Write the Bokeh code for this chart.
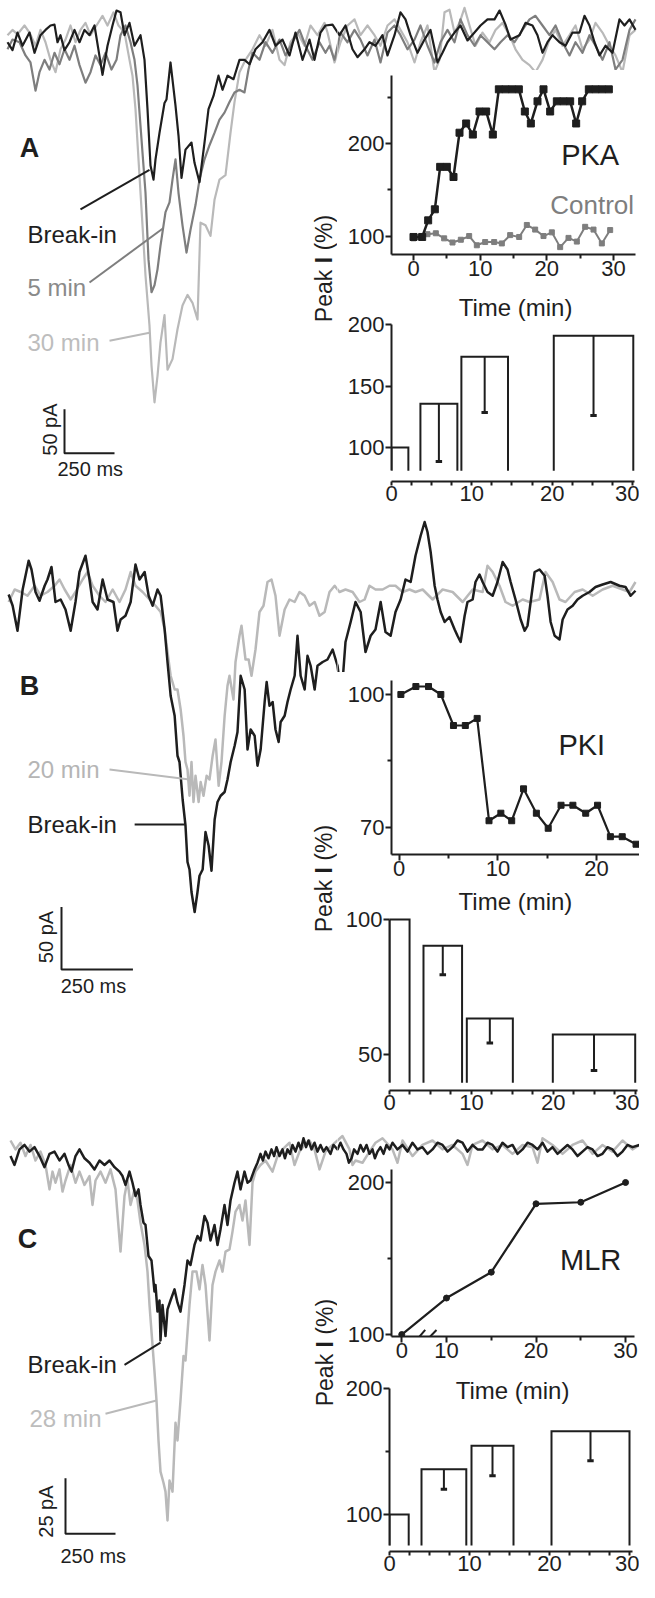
import numpy as np
from bokeh.plotting import figure
from bokeh.models import FixedTicker, Range1d, Row, Column, Arrow
from bokeh.embed import file_html
from bokeh.resources import INLINE
from bokeh.core.properties import value

FONT = "Liberation Sans"
INK = "#1e1e1e"
MID = "#7e7e7e"
LIGHT = "#b9b9b9"

# ---------------- Panel A traces (ms, pA) ----------------
a_breakin = [(10,6),(35,-3),(60,17),(85,2),(120,17),(145,-6),(175,14),(200,20),(225,25),(245,26),(260,6),(275,14),(295,-3),(320,6),(345,20),(370,6),(395,20),(420,14),(445,25),(465,-3),(485,-31),(510,2),(535,25),(555,42),(575,40),(595,14),(620,28),(645,2),(675,14),(695,-14),(710,-70),(725,-134),(740,-150),(750,-127),(770,-97),(795,-63),(805,-59),(825,-17),(850,-66),(865,-100),(880,-148),(900,-116),(930,-108),(945,-131),(970,-153),(995,-108),(1015,-70),(1040,-55),(1065,-32),(1085,-48),(1110,-32),(1140,-36),(1170,-14),(1195,-14),(1220,-19),(1250,-2),(1285,6),(1320,20),(1350,2),(1385,9),(1420,-9),(1450,17),(1485,-14),(1520,9),(1545,-14),(1575,17),(1600,25),(1635,26),(1670,14),(1700,25),(1735,-2),(1760,-11),(1795,-2),(1820,6),(1850,2),(1885,14),(1910,-9),(1945,14),(1975,40),(2000,32),(2025,14),(2060,-6),(2095,9),(2125,20),(2160,-17),(2185,-6),(2210,6),(2245,17),(2275,25),(2310,8),(2345,17),(2375,25),(2410,32),(2445,32),(2470,42),(2500,26),(2525,9),(2570,14),(2600,28),(2635,25),(2660,14),(2685,-6),(2710,6),(2735,14),(2770,6),(2800,2),(2835,17),(2870,17),(2895,36),(2920,25),(2945,6),(2970,-9),(3000,2),(3035,-6),(3070,32),(3095,25),(3120,32),(3150,20)]
a_5min = [(10,-2),(35,9),(70,6),(100,-9),(125,-17),(150,-49),(170,-28),(195,-14),(220,-25),(245,-6),(270,-19),(295,-2),(320,-14),(345,2),(370,-20),(400,-40),(425,-28),(450,-9),(475,-20),(500,-6),(530,-25),(555,-14),(575,14),(600,25),(625,6),(645,-14),(660,-43),(675,-89),(700,-165),(715,-241),(730,-278),(745,-270),(760,-252),(775,-225),(800,-187),(820,-176),(835,-150),(850,-127),(865,-165),(885,-202),(905,-233),(925,-207),(950,-179),(970,-150),(995,-127),(1020,-111),(1045,-97),(1070,-82),(1095,-74),(1120,-62),(1145,-51),(1170,-48),(1195,-51),(1215,-25),(1235,-6),(1270,-14),(1300,6),(1335,-6),(1370,9),(1400,-9),(1435,6),(1470,20),(1500,2),(1535,-14),(1570,6),(1600,-6),(1620,2),(1645,-14),(1675,17),(1710,6),(1745,20),(1775,9),(1810,-9),(1845,9),(1875,-17),(1910,17),(1945,25),(1975,14),(2010,-2),(2045,9),(2075,25),(2110,2),(2145,-17),(2175,6),(2210,20),(2245,6),(2275,32),(2310,14),(2345,2),(2375,14),(2410,6),(2445,-2),(2475,6),(2510,14),(2545,6),(2585,20),(2620,32),(2650,36),(2685,25),(2720,14),(2750,25),(2785,6),(2820,-9),(2850,6),(2885,-6),(2920,14),(2950,2),(2985,-14),(3020,6),(3050,-25),(3085,-14),(3120,20),(3150,32)]
a_30min = [(10,14),(35,20),(60,15),(95,25),(120,17),(150,2),(175,20),(200,6),(225,-14),(250,-28),(275,-2),(300,9),(325,25),(350,6),(375,20),(400,28),(425,14),(455,25),(485,36),(510,25),(540,40),(565,25),(595,17),(620,-14),(635,-32),(650,-70),(665,-127),(685,-202),(700,-259),(720,-316),(730,-361),(745,-403),(760,-373),(775,-335),(795,-304),(810,-366),(835,-354),(860,-320),(885,-293),(910,-281),(935,-290),(960,-309),(975,-199),(1000,-202),(1025,-214),(1045,-173),(1070,-150),(1100,-145),(1125,-97),(1145,-62),(1170,-28),(1200,-14),(1235,-2),(1270,14),(1300,2),(1335,20),(1370,-14),(1395,-20),(1425,6),(1460,17),(1495,2),(1525,25),(1560,14),(1595,28),(1610,17),(1645,-17),(1675,6),(1710,25),(1745,32),(1775,14),(1810,25),(1845,14),(1875,2),(1910,25),(1945,32),(1975,20),(2010,6),(2045,-17),(2075,6),(2110,25),(2145,-28),(2170,-14),(2195,40),(2220,43),(2245,17),(2270,28),(2295,45),(2320,25),(2350,2),(2385,17),(2420,6),(2450,20),(2485,28),(2520,14),(2550,-2),(2585,-14),(2620,-20),(2650,-28),(2685,-14),(2720,9),(2750,20),(2785,2),(2820,14),(2850,25),(2885,-2),(2920,9),(2950,28),(2985,17),(3020,2),(3050,-9),(3085,-28),(3120,14),(3150,20)]

# ---------------- Panel B traces (ms, pA) ----------------
b_breakin = [(4,4),(18,-5),(35,-25),(53,8),(74,31),(84,24),(98,6),(112,-1),(130,11),(140,16),(154,26),(168,-2),(186,0),(203,-8),(221,-25),(238,-2),(252,22),(273,35),(287,16),(298,-2),(315,-8),(333,16),(350,0),(371,-2),(385,-25),(396,-16),(413,-13),(431,-2),(448,28),(462,16),(480,22),(494,3),(508,-5),(525,8),(536,3),(550,-24),(560,-50),(571,-77),(585,-93),(595,-125),(602,-130),(613,-160),(623,-181),(630,-210),(637,-216),(644,-234),(655,-250),(665,-234),(672,-221),(683,-216),(693,-186),(704,-197),(714,-217),(725,-176),(735,-162),(746,-157),(760,-154),(770,-144),(781,-130),(795,-117),(805,-106),(816,-61),(830,-72),(840,-120),(851,-104),(865,-109),(875,-133),(886,-120),(900,-82),(907,-66),(917,-85),(928,-82),(938,-104),(949,-114),(956,-98),(970,-93),(980,-82),(991,-72),(1005,-61),(1015,-29),(1026,-61),(1040,-72),(1050,-45),(1061,-53),(1075,-72),(1085,-53),(1103,-50),(1120,-48),(1138,-40),(1155,-53),(1169,-77),(1183,-34),(1201,-18),(1218,-2),(1236,-10),(1253,-42),(1271,-29),(1288,-24),(1306,-2),(1323,-26),(1341,-29),(1358,-10),(1376,0),(1393,16),(1411,14),(1428,35),(1446,51),(1460,62),(1470,54),(1481,38),(1495,11),(1505,0),(1516,-10),(1530,-18),(1547,-14),(1565,-24),(1575,-29),(1586,-34),(1600,-13),(1610,-2),(1628,0),(1638,14),(1652,20),(1663,14),(1680,6),(1698,3),(1715,14),(1733,30),(1750,24),(1761,14),(1778,0),(1796,-16),(1810,-25),(1820,-21),(1831,-2),(1845,22),(1862,24),(1880,19),(1890,3),(1901,-18),(1915,-29),(1932,-32),(1943,-16),(1960,-8),(1978,-5),(1995,0),(2013,3),(2037,6),(2058,10),(2083,12),(2111,14),(2142,11),(2163,10),(2181,3),(2198,7)]
b_20min = [(4,-2),(25,8),(46,6),(70,3),(95,11),(116,3),(140,6),(165,11),(182,16),(200,8),(221,0),(238,6),(263,16),(280,22),(298,11),(322,3),(343,-2),(368,8),(392,-2),(413,8),(431,22),(448,11),(473,6),(497,0),(518,-5),(536,-10),(550,-24),(560,-42),(571,-61),(585,-72),(595,-72),(606,-88),(616,-109),(623,-130),(630,-136),(637,-157),(644,-130),(651,-162),(658,-141),(669,-162),(676,-146),(686,-157),(697,-141),(707,-144),(718,-125),(728,-112),(739,-149),(749,-130),(760,-93),(770,-69),(777,-61),(791,-80),(798,-50),(812,-29),(819,-21),(833,-48),(844,-48),(854,-61),(868,-40),(882,-10),(896,-5),(910,14),(924,16),(938,3),(952,-29),(970,-8),(987,0),(1005,-2),(1022,6),(1040,3),(1057,-5),(1075,-2),(1092,-13),(1110,-10),(1127,6),(1145,11),(1162,6),(1183,8),(1208,6),(1232,-2),(1250,0),(1267,11),(1288,8),(1313,8),(1337,11),(1358,11),(1383,6),(1407,8),(1428,6),(1453,8),(1488,0),(1523,8),(1558,6),(1593,-2),(1628,8),(1663,6),(1680,27),(1698,22),(1722,11),(1743,-2),(1768,-5),(1803,0),(1827,-2),(1862,0),(1883,22),(1908,14),(1932,0),(1953,-2),(1985,6),(2013,8),(2048,3),(2083,8),(2118,11),(2153,8),(2177,6),(2198,14)]

# ---------------- Panel C traces (ms, pA) ----------------
c_breakin = [(0,2),(20,-2),(45,5),(70,7),(95,4),(120,6),(145,2),(170,-3),(195,3),(220,4),(245,0),(270,3),(290,-2),(305,-5),(325,2),(345,5),(370,1),(395,-1),(420,-4),(445,0),(470,-2),(495,0),(520,-3),(545,-5),(560,-7),(575,-11),(595,-5),(610,-10),(625,-16),(640,-13),(650,-20),(665,-28),(675,-29),(690,-43),(705,-45),(720,-59),(725,-56),(735,-68),(745,-63),(750,-81),(760,-65),(775,-79),(785,-67),(800,-63),(820,-58),(835,-64),(850,-68),(870,-56),(885,-45),(900,-47),(920,-38),(935,-34),(950,-36),(970,-25),(985,-28),(1000,-36),(1020,-29),(1035,-38),(1050,-31),(1070,-20),(1085,-29),(1100,-18),(1120,-10),(1135,-5),(1150,-13),(1170,-5),(1185,-10),(1200,-9),(1220,-4),(1235,-1),(1250,3),(1262,0),(1275,4),(1290,1),(1305,5),(1318,2),(1330,6),(1345,2),(1360,5),(1372,1),(1385,5),(1398,3),(1410,7),(1425,4),(1440,8),(1452,5),(1465,10),(1478,6),(1490,9),(1505,5),(1520,8),(1535,4),(1550,7),(1565,4),(1580,6),(1600,3),(1615,7),(1635,5),(1650,8),(1665,5),(1680,3),(1692,-1),(1705,1),(1718,5),(1735,3),(1750,7),(1765,4),(1780,7),(1795,3),(1810,5),(1822,1),(1835,4),(1850,6),(1865,3),(1880,7),(1895,5),(1910,8),(1935,5),(1960,7),(1985,4),(2010,8),(2035,5),(2060,6),(2085,3),(2110,5),(2135,8),(2160,7),(2185,4),(2210,6),(2235,9),(2260,8),(2285,4),(2310,7),(2335,5),(2360,5),(2385,8),(2410,7),(2435,4),(2460,8),(2485,6),(2510,7),(2535,3),(2560,5),(2585,8),(2610,7),(2635,5),(2660,8),(2685,4),(2710,6),(2735,3),(2760,5),(2785,7),(2810,5),(2835,2),(2860,4),(2885,6),(2910,5),(2935,2),(2960,3),(2985,6),(3010,5),(3035,2),(3060,4),(3085,7),(3110,6),(3145,7)]
c_28min = [(0,9),(25,5),(50,8),(75,2),(100,7),(125,0),(150,4),(175,-2),(195,-13),(210,-5),(225,-10),(245,-4),(260,-14),(275,-9),(300,-2),(325,-10),(345,-5),(370,-11),(395,-7),(410,-20),(425,-9),(450,-5),(475,-10),(500,-4),(525,-13),(550,-41),(570,-16),(585,-9),(600,-20),(620,-13),(635,-18),(650,-28),(670,-38),(685,-50),(695,-65),(705,-77),(720,-95),(730,-108),(740,-126),(750,-140),(765,-145),(775,-149),(785,-162),(795,-144),(810,-149),(825,-118),(835,-126),(850,-108),(865,-88),(875,-90),(895,-65),(910,-50),(930,-50),(945,-58),(960,-47),(975,-56),(995,-81),(1010,-56),(1025,-50),(1045,-45),(1060,-50),(1075,-41),(1095,-40),(1110,-32),(1125,-23),(1145,-20),(1160,-27),(1175,-18),(1195,-38),(1210,-10),(1225,-5),(1250,-2),(1275,0),(1310,-5),(1335,2),(1360,5),(1395,8),(1420,-2),(1445,4),(1470,7),(1495,9),(1520,5),(1545,-4),(1575,4),(1610,7),(1635,9),(1660,11),(1695,5),(1710,-2),(1725,0),(1760,-1),(1795,4),(1825,8),(1860,10),(1910,5),(1935,-1),(1960,9),(2010,2),(2060,7),(2110,9),(2160,5),(2210,7),(2260,3),(2285,-2),(2310,7),(2360,9),(2410,5),(2460,7),(2510,3),(2560,7),(2610,6),(2635,-1),(2660,10),(2710,7),(2760,3),(2810,7),(2860,9),(2910,3),(2960,7),(3010,4),(3060,9),(3110,5),(3145,7)]

# ---------------- Time courses ----------------
pka_t = [0, 1.3, 2.2, 3.2, 4.0, 5.0, 6.0, 6.9, 7.9, 8.9, 9.9, 10.9, 11.9, 12.8, 13.8, 14.8, 15.8, 16.7, 17.6, 18.6, 19.5, 20.5, 21.5, 22.5, 23.5, 24.4, 25.3, 26.3, 27.3, 28.3, 29.3]
pka_v = [99, 99, 117, 129, 175, 175, 164, 212, 222, 210, 235, 235, 210, 259, 259, 259, 259, 235, 222, 246, 259, 235, 246, 246, 246, 222, 246, 259, 259, 259, 259]
ctl_t = [0, 0.85, 2.1, 3.35, 4.6, 5.85, 7.1, 8.35, 9.5, 10.75, 12.1, 13.25, 14.5, 15.85, 17, 18.25, 19.5, 20.75, 22, 23.25, 24.5, 25.75, 27, 28.25, 29.5]
ctl_v = [97.5, 99, 102, 103, 97.5, 93, 96, 100, 90, 93.5, 93.5, 92, 101, 99, 112, 107, 100, 104, 88, 98, 94, 110, 107, 92, 106.5]
pki_t = [0.17, 1.69, 2.97, 4.22, 5.5, 6.7, 7.9, 9.1, 10.3, 11.4, 12.6, 13.9, 15.1, 16.4, 17.6, 18.9, 20.1, 21.4, 22.6, 24.0]
pki_v = [100, 101.8, 101.8, 100, 93, 93, 94.6, 71.5, 73.2, 71.5, 78.7, 73.2, 69.8, 75, 75, 73.2, 75, 67.9, 67.9, 66.2]
mlr_t = [0, 10, 15, 20, 25, 30]
mlr_v = [100, 124, 141, 186, 187, 200]
MLR_ZERO_POS = 5  # broken axis: t=0 drawn at the 5-min position

# ---------------- Bar summaries (minutes, % peak) ----------------
barA_left = [0, 3.6, 8.7, 20.2]
barA_right = [2.1, 8.2, 14.5, 30.1]
barA_mean = [100, 135.5, 173.8, 190.8]
barA_err = [0, 46.9, 45.4, 64.8]
barB_left = [0, 4.15, 9.44, 19.94]
barB_right = [2.45, 8.86, 15.06, 30.0]
barB_mean = [100, 90.3, 63.3, 57.4]
barB_err = [0, 10.8, 9.0, 13.3]
barC_left = [0, 4.0, 10.25, 20.25]
barC_right = [2.4, 9.6, 15.5, 30.0]
barC_mean = [100, 136, 154.6, 166]
barC_err = [0, 16, 23.8, 23.4]

bar_ticks = [0, 10, 20, 30]
bar_minor = [2.5, 5, 7.5, 12.5, 15, 17.5, 22.5, 25, 27.5]


def make_fig(fw, fh, xr, yr, bl=0, br=0, bt=0, bb=0, axes=True):
    kw = {} if axes else dict(x_axis_type=None, y_axis_type=None)
    p = figure(width=bl + fw + br, height=bt + fh + bb,
               x_range=Range1d(*xr), y_range=Range1d(*yr),
               output_backend="svg", toolbar_location=None,
               min_border_left=bl, min_border_right=br,
               min_border_top=bt, min_border_bottom=bb, **kw)
    p.margin = 0
    p.outline_line_color = None
    p.background_fill_color = None
    p.border_fill_color = None
    p.title.visible = False
    if axes:
        p.xgrid.visible = False
        p.ygrid.visible = False
    return p


def wrap(p):
    return Row(children=[p], spacing=0, margin=0)


def style_axes(p, xt, xm, yt, ym):
    for ax in (p.xaxis[0], p.yaxis[0]):
        ax.axis_line_width = 2
        ax.axis_line_color = INK
        ax.major_tick_line_width = 2
        ax.minor_tick_line_width = 2
        ax.major_tick_line_color = INK
        ax.minor_tick_line_color = INK
        ax.major_tick_out = 6
        ax.major_tick_in = 0
        ax.minor_tick_out = 4
        ax.minor_tick_in = 0
        ax.major_label_text_font = FONT
        ax.major_label_text_font_size = "22px"
        ax.major_label_text_color = INK
        ax.major_label_standoff = 1
    p.xaxis[0].major_label_standoff = 0
    p.xaxis[0].ticker = FixedTicker(ticks=xt, minor_ticks=xm)
    p.yaxis[0].ticker = FixedTicker(ticks=yt, minor_ticks=ym)


def add_text(p, x, y, s, color=INK, size="24px", align="left", bold=False, angle=0.0):
    p.text(x=[x], y=[y], text=[s], text_font=value(FONT), text_font_size=size,
           text_color=color, text_align=align, text_baseline="middle",
           text_font_style="bold" if bold else "normal", angle=angle)


def peak_label(p, x, y0, per_px):
    # "Peak I (%)" written upward, with a bold I; per_px = data units per pixel
    parts = [("Peak", False, 0.0), ("I", True, 58.8), ("(%)", False, 71.6)]
    for s, b, off in parts:
        add_text(p, x, y0 + off * per_px, s, size="23px", align="left", bold=b,
                 angle=np.pi / 2)


def draw_trace(p, pairs, color, width):
    t, i = zip(*pairs)
    p.line(list(t), list(i), line_color=color, line_width=width, line_join="round")


def draw_bars(p, left, right, mean, err, base, cap):
    xs = [[l, l, r, r] for l, r in zip(left, right)]
    ys = [[base, m, m, base] for m in mean]
    p.multi_line(xs, ys, line_color=INK, line_width=2, line_join="miter")
    cx = [(l + r) / 2 for l, r, e in zip(left, right, err) if e > 0]
    top = [m for m, e in zip(mean, err) if e > 0]
    low = [m - e for m, e in zip(mean, err) if e > 0]
    p.segment(x0=cx, y0=top, x1=cx, y1=low, line_color=INK, line_width=2)
    p.segment(x0=[c - cap for c in cx], y0=low, x1=[c + cap for c in cx], y1=low,
              line_color=INK, line_width=3)


def bar_axes(p):
    p.xaxis[0].major_tick_out = 4
    p.xaxis[0].minor_tick_out = 4


def panel(left, strip, tc, bar):
    right = Column(children=[wrap(strip), wrap(tc), wrap(bar)], spacing=0, margin=0)
    return Row(children=[wrap(left), right], spacing=0, margin=0)


LEFT_W = 337
RIGHT_W = 302

# ================= PANEL A =================
A_traces = [(a_30min, LIGHT, 2.2), (a_5min, MID, 2.2), (a_breakin, INK, 2.2)]
leftA = make_fig(LEFT_W, 512, (-25, 1660), (-528.2, 53.4), axes=False)
stripA = make_fig(RIGHT_W, 70, (1660, 3170), (-26.1, 53.4), axes=False)
for fig in (leftA, stripA):
    for tr, col, w in A_traces:
        draw_trace(fig, tr, col, w)
add_text(leftA, 120, -114, "A", size="27px", align="center", bold=True)
add_text(leftA, 110, -212, "Break-in")
leftA.line([375, 720], [-184, -139], line_color=INK, line_width=2)
add_text(leftA, 110, -273, "5 min", color="#8a8a8a")
leftA.line([420, 790], [-267, -205], line_color=MID, line_width=2)
add_text(leftA, 110, -335, "30 min", color="#bdbdbd")
leftA.line([520, 720], [-333, -324], line_color=LIGHT, line_width=2)
leftA.line([295, 295, 545], [-411, -461, -461], line_color=INK, line_width=2)
add_text(leftA, 220, -434, "50 pA", size="20px", align="center", angle=np.pi / 2)
add_text(leftA, 260, -479, "250 ms", size="20px")
peak_label(leftA, 1590, -312, 1.136)

tcA = make_fig(244, 179, (-3.3, 33.3), (80, 274), bl=54, br=4, bt=5, bb=34)
style_axes(tcA, [0, 10, 20, 30], [5, 15, 25], [100, 200], [150, 250])
tcA.line(ctl_t, ctl_v, line_color=MID, line_width=2)
tcA.scatter(ctl_t, ctl_v, marker="square", size=5, color=MID)
tcA.line(pka_t, pka_v, line_color=INK, line_width=2.5)
tcA.scatter(pka_t, pka_v, marker="square", size=7, color=INK)
add_text(tcA, 26.5, 188, "PKA", size="29px", align="center")
add_text(tcA, 26.8, 134, "Control", color=MID, size="26px", align="center")

bA = make_fig(245, 191, (0, 30.5), (72.36, 227.64), bl=54, br=3, bt=2, bb=31)
style_axes(bA, bar_ticks, bar_minor, [100, 150, 200], [])
bar_axes(bA)
bA.yaxis[0].bounds = (81, 200)
bA.xaxis[0].bounds = (0, 30.2)
draw_bars(bA, barA_left, barA_right, barA_mean, barA_err, 81, 0.4)
add_text(bA, 15.44, 213.8, "Time (min)", align="center")

rowA = panel(leftA, stripA, tcA, bA)

# ================= PANEL B =================
B_traces = [(b_20min, LIGHT, 2.5), (b_breakin, INK, 2.5)]
leftB = make_fig(LEFT_W, 612, (-24.5, 1155), (-420, 69.6), axes=False)
stripB = make_fig(RIGHT_W, 160, (1155, 2212), (-58.4, 69.6), axes=False)
for fig in (leftB, stripB):
    for tr, col, w in B_traces:
        draw_trace(fig, tr, col, w)
add_text(leftB, 77, -69, "B", size="27px", align="center", bold=True)
add_text(leftB, 70, -136, "20 min", color="#b5b5b5")
leftB.line([357, 637], [-136, -144], line_color=LIGHT, line_width=2)
add_text(leftB, 70, -180, "Break-in")
leftB.line([445, 620], [-180, -180], line_color=INK, line_width=2)
leftB.line([189, 189, 439], [-246, -296, -296], line_color=INK, line_width=2)
add_text(leftB, 133, -270, "50 pA", size="20px", align="center", angle=np.pi / 2)
add_text(leftB, 186, -309, "250 ms", size="20px")
peak_label(leftB, 1106, -266.2, 0.8)

tcB = make_fig(248, 174, (-0.78, 24.35), (63.88, 103.16), bl=54, br=0, bt=8, bb=31)
style_axes(tcB, [0, 10, 20], [5, 15, 25], [70, 100], [85])
tcB.line(pki_t, pki_v, line_color=INK, line_width=2.2)
tcB.scatter(pki_t, pki_v, marker="square", size=6, color=INK)
add_text(tcB, 18.5, 88.7, "PKI", size="29px", align="center")

bB = make_fig(248, 205, (0, 30.28), (36.67, 112.6), bl=52, br=2, bt=0, bb=34)
style_axes(bB, bar_ticks, bar_minor, [50, 100], [])
bar_axes(bB)
bB.yaxis[0].bounds = (39.5, 100)
draw_bars(bB, barB_left, barB_right, barB_mean, barB_err, 39.5, 0.4)
add_text(bB, 15.38, 106.7, "Time (min)", align="center")

rowB = panel(leftB, stripB, tcB, bB)

# ================= PANEL C =================
C_traces = [(c_28min, LIGHT, 2.5), (c_breakin, INK, 2.5)]
leftC = make_fig(LEFT_W, 458, (-50, 1635), (-189.9, 16.2), axes=False)
stripC = make_fig(RIGHT_W, 43, (1635, 3145), (-3.15, 16.2), axes=False)
for fig in (leftC, stripC):
    for tr, col, w in C_traces:
        draw_trace(fig, tr, col, w)
add_text(leftC, 85, -35.5, "C", size="27px", align="center", bold=True)
add_text(leftC, 85, -92, "Break-in")
leftC.line([570, 750], [-92, -82], line_color=INK, line_width=2)
add_text(leftC, 95, -116, "28 min", color="#bdbdbd")
leftC.line([475, 730], [-114, -108], line_color=LIGHT, line_width=2)
leftC.line([275, 275, 525], [-143, -168, -168], line_color=INK, line_width=2)
add_text(leftC, 175, -158, "25 pA", size="20px", align="center", angle=np.pi / 2)
add_text(leftC, 250, -178, "250 ms", size="20px")
peak_label(leftC, 1570, -110.6, 0.45)

tcC = make_fig(243, 167, (3.855, 31.0), (98.7, 208.55), bl=54, br=5, bt=2, bb=36)
style_axes(tcC, [MLR_ZERO_POS, 10, 20, 30], [15, 25], [100, 200], [150])
tcC.xaxis[0].major_label_overrides = {MLR_ZERO_POS: "0"}
mlr_x = [MLR_ZERO_POS if t == 0 else t for t in mlr_t]
tcC.line(mlr_x, mlr_v, line_color=INK, line_width=2.2)
tcC.scatter(mlr_x, mlr_v, marker="circle", size=6, color=INK)
for xs0, xs1 in ((6.39, 7.62), (7.51, 8.88)):
    tcC.add_layout(Arrow(end=None, x_start=xs0, y_start=94.6, x_end=xs1, y_end=103.0,
                         line_color=INK, line_width=2))
add_text(tcC, 26.1, 148.7, "MLR", size="29px", align="center")

bC = make_fig(243, 177, (0, 30.375), (70.63, 211.1), bl=52, br=7, bt=2, bb=31)
style_axes(bC, bar_ticks, bar_minor, [100, 200], [150])
bar_axes(bC)
bC.yaxis[0].bounds = (75.4, 200)
draw_bars(bC, barC_left, barC_right, barC_mean, barC_err, 75.4, 0.4)
add_text(bC, 15.38, 198.4, "Time (min)", align="center")

rowC = panel(leftC, stripC, tcC, bC)

layout = Column(children=[rowA, rowB, rowC], spacing=0, margin=0)
open("out.html", "w").write(file_html(layout, INLINE, title="Peak I"))
